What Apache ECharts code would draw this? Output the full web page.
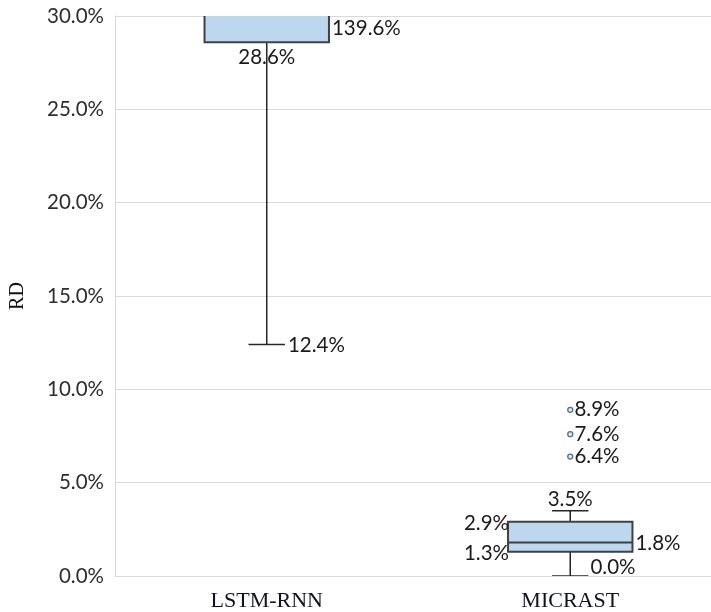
<!DOCTYPE html>
<html>
<head>
<meta charset="utf-8">
<script src="https://cdn.jsdelivr.net/npm/echarts@6/dist/echarts.min.js"></script>
<style>
html,body{margin:0;padding:0;background:#ffffff;overflow:hidden;width:711px;height:612px;}
#chart{width:722px;height:612px;}
</style>
</head>
<body>
<div id="chart"></div>
<script>
// ---- data ----
const categories = ['LSTM-RNN', 'MICRAST'];
const boxMin    = [12.4, 0.0];
const boxQ1     = [28.6, 1.3];
const boxMedian = [139.6, 1.8];
const boxQ3     = [260.0, 2.9];   // LSTM-RNN upper quartile lies far above the visible range (estimated)
const boxMax    = [480.0, 3.5];   // LSTM-RNN maximum lies far above the visible range (estimated)
const outlierCat  = [1, 1, 1];
const outlierVals = [8.9, 7.6, 6.4];
const yTicks = [0, 5, 10, 15, 20, 25, 30];

// which statistics carry a data label, and where the label sits
const labelCat  = [0, 0, 0, 1, 1, 1, 1, 1];
const labelStat = ['median', 'q1', 'min', 'max', 'q3', 'median', 'q1', 'min'];
const labelPos  = ['rightBox', 'belowCenter', 'rightCap', 'aboveCenter', 'leftBox', 'rightBox', 'leftBox', 'rightCapUp'];

const statArrays = {min: boxMin, q1: boxQ1, median: boxMedian, q3: boxQ3, max: boxMax};
const yMin = yTicks[0], yMax = yTicks[yTicks.length - 1];
const yStep = yTicks[1] - yTicks[0];

const boxData = categories.map((c, i) => [i, boxMin[i], boxQ1[i], boxMedian[i], boxQ3[i], boxMax[i]]);
const labelData = labelCat.map((c, i) => [c, statArrays[labelStat[i]][c]]);
const outlierData = outlierVals.map((v, i) => [outlierCat[i], v]);

const BOX_FRAC = 0.41, CAP_FRAC = 0.12;
const LABEL_FONT = {fontFamily: 'Lato', fontSize: 20.5, fill: '#1a1a1a'};

const chart = echarts.init(document.getElementById('chart'), null, {renderer: 'canvas'});
chart.setOption({
  backgroundColor: '#ffffff',
  animation: false,
  grid: {left: 114, right: 0, top: 16, bottom: 33, containLabel: false},
  xAxis: {
    type: 'category',
    data: categories,
    axisLine: {show: true, lineStyle: {color: '#d9d9d9', width: 1}},
    axisTick: {show: false},
    axisLabel: {fontFamily: 'Liberation Serif', fontSize: 22, color: '#111122', margin: 14},
    splitLine: {show: false}
  },
  yAxis: {
    type: 'value',
    min: yMin, max: yMax, interval: yStep,
    name: 'RD',
    nameLocation: 'middle',
    nameGap: 87,
    nameRotate: 90,
    nameTextStyle: {fontFamily: 'Liberation Serif', fontSize: 20, color: '#111111'},
    axisLine: {show: true, lineStyle: {color: '#d9d9d9', width: 1}},
    axisTick: {show: false},
    axisLabel: {fontFamily: 'Lato', fontSize: 20.5, color: '#2e2e2e', margin: 11,
      formatter: v => v.toFixed(1) + '%'},
    splitLine: {show: true, lineStyle: {color: '#d9d9d9', width: 1}}
  },
  series: [
    {
      type: 'custom',
      clip: true,
      data: boxData,
      encode: {x: 0, y: [1, 2, 3, 4, 5]},
      z: 3,
      renderItem: function (params, api) {
        const idx = api.value(0);
        const band = api.size([1, 0])[0];
        const half = band * BOX_FRAC / 2, capHalf = band * CAP_FRAC / 2;
        const pMin = api.coord([idx, api.value(1)]);
        const pQ1 = api.coord([idx, api.value(2)]);
        const pMed = api.coord([idx, api.value(3)]);
        const pQ3 = api.coord([idx, api.value(4)]);
        const pMax = api.coord([idx, api.value(5)]);
        const cx = pMin[0];
        const lineStyle = {stroke: '#262626', lineWidth: 1.5};
        const cs = params.coordSys;
        return {
          type: 'group',
          clipPath: {type: 'rect', shape: {x: cs.x, y: cs.y, width: cs.width, height: cs.height}},
          children: [
            {type: 'line', shape: {x1: cx, y1: pMin[1], x2: cx, y2: pQ1[1]}, style: lineStyle},
            {type: 'line', shape: {x1: cx, y1: pQ3[1], x2: cx, y2: pMax[1]}, style: lineStyle},
            {type: 'line', shape: {x1: cx - capHalf, y1: pMin[1], x2: cx + capHalf, y2: pMin[1]}, style: lineStyle},
            {type: 'line', shape: {x1: cx - capHalf, y1: pMax[1], x2: cx + capHalf, y2: pMax[1]}, style: lineStyle},
            {type: 'rect', shape: {x: cx - half, y: pQ3[1], width: half * 2, height: pQ1[1] - pQ3[1]},
              style: {fill: '#bdd7ee', stroke: '#404040', lineWidth: 2}},
            {type: 'line', shape: {x1: cx - half, y1: pMed[1], x2: cx + half, y2: pMed[1]},
              style: {stroke: '#404040', lineWidth: 2}}
          ]
        };
      }
    },
    {
      type: 'scatter',
      data: outlierData,
      symbol: 'circle',
      symbolSize: 5,
      itemStyle: {color: '#dce9f6', borderColor: '#4f6f94', borderWidth: 1.3, opacity: 1},
      z: 4,
      label: {show: true, position: 'right', distance: 1, fontFamily: 'Lato', fontSize: 20.5, color: '#1a1a1a',
        formatter: p => p.value[1].toFixed(1) + '%'},
      emphasis: {disabled: true}
    },
    {
      type: 'custom',
      clip: false,
      data: labelData,
      encode: {x: 0, y: 1},
      z: 5,
      renderItem: function (params, api) {
        const idx = api.value(0);
        const v = api.value(1);
        const shown = Math.min(Math.max(v, yMin), yMax);
        const clamped = shown !== v;
        const band = api.size([1, 0])[0];
        const half = band * BOX_FRAC / 2, capHalf = band * CAP_FRAC / 2;
        const p = api.coord([idx, shown]);
        const text = v.toFixed(1) + '%';
        const pos = labelPos[params.dataIndex];
        let x = p[0], y = p[1], align = 'center', va = 'middle';
        if (pos === 'rightBox') { x = p[0] + half + 3; align = 'left'; va = clamped ? 'top' : 'middle'; y = clamped ? p[1] + 2 : p[1] + 1; }
        else if (pos === 'leftBox') { x = p[0] - half + 1; align = 'right'; y = p[1] + 2; }
        else if (pos === 'belowCenter') { va = 'top'; y = p[1] + 5; }
        else if (pos === 'rightCap') { x = p[0] + capHalf + 3; align = 'left'; y = p[1] + 1; }
        else if (pos === 'aboveCenter') { va = 'bottom'; y = p[1] - 1; }
        else if (pos === 'rightCapUp') { x = p[0] + capHalf + 2; align = 'left'; va = 'bottom'; y = p[1] + 2; }
        return {
          type: 'text',
          x: x, y: y,
          style: Object.assign({text: text, align: align, verticalAlign: va}, LABEL_FONT)
        };
      }
    }
  ]
});
</script>
</body>
</html>
